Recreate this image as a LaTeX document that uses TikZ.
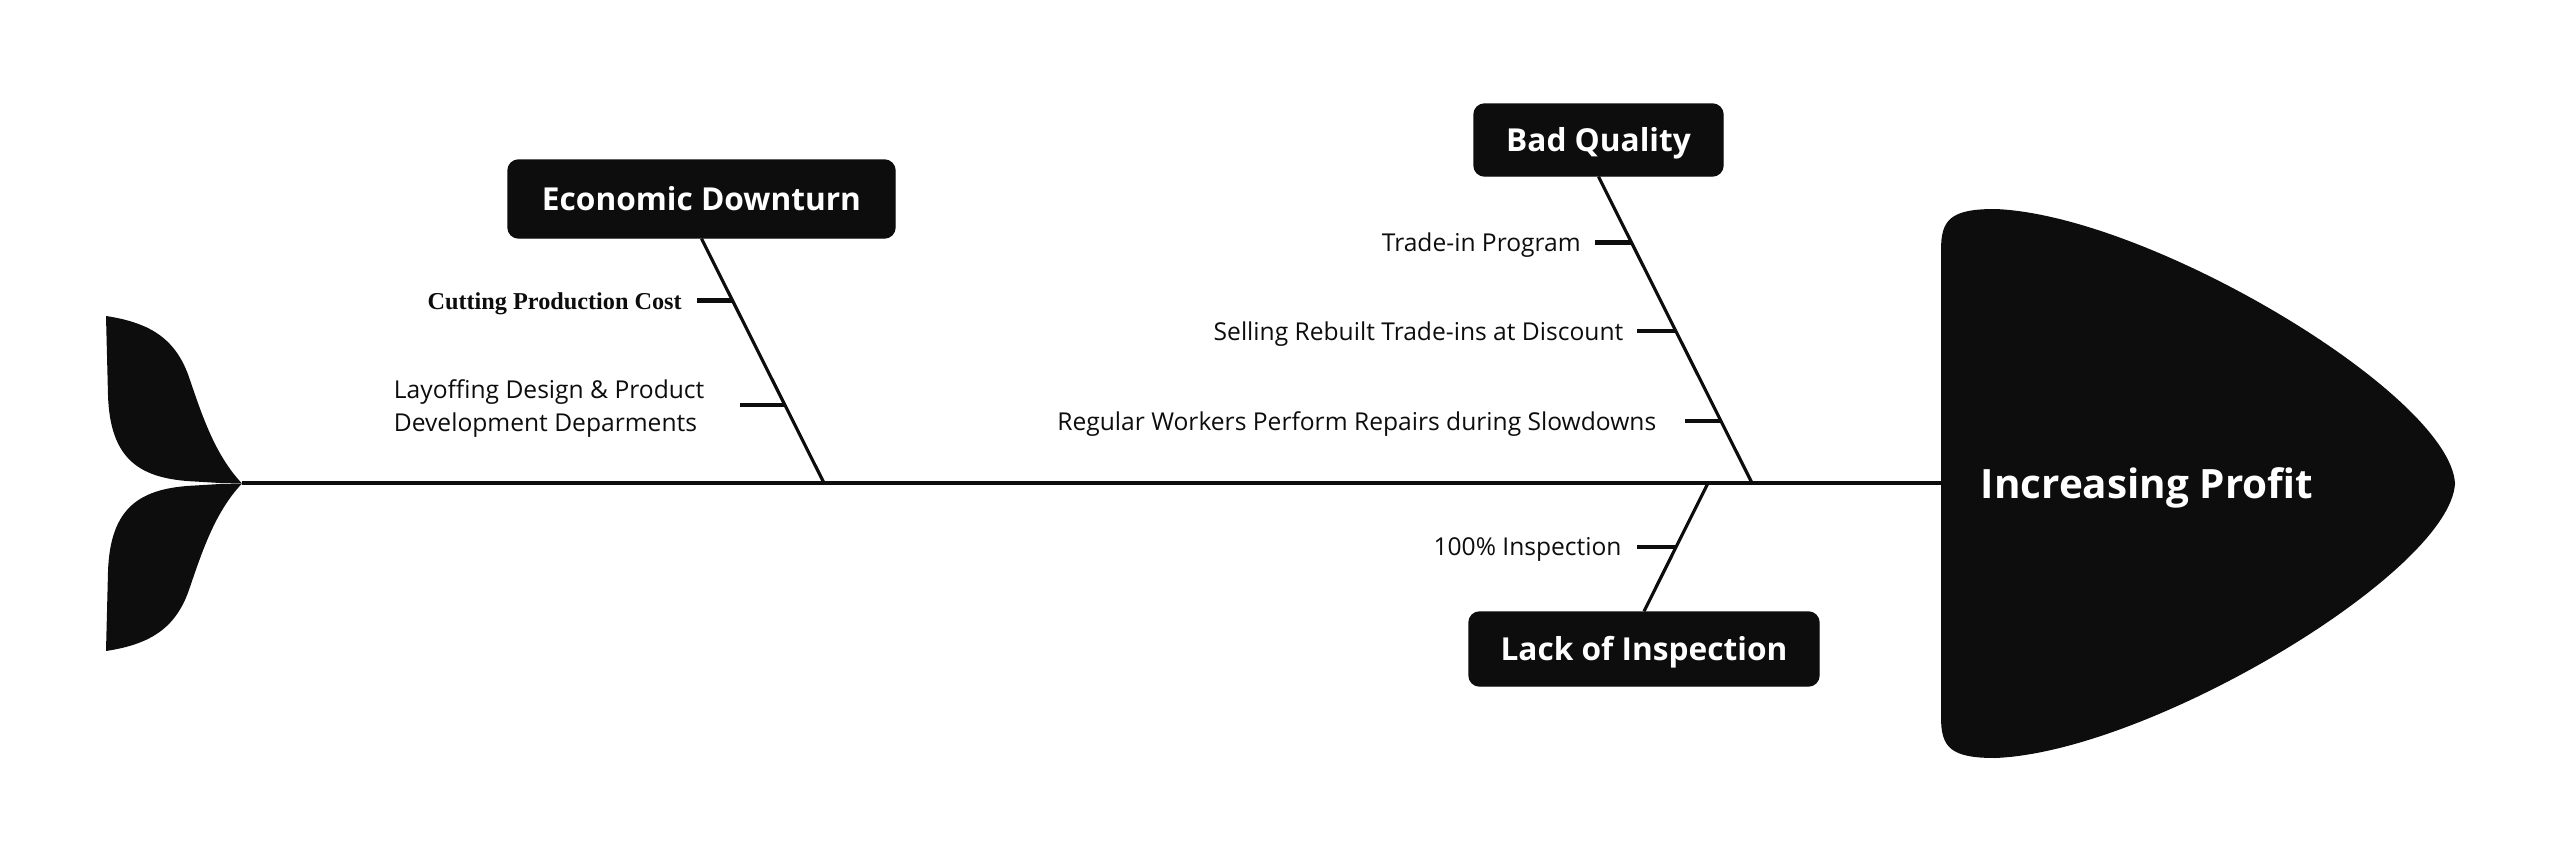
\documentclass[tikz,border=0pt]{standalone}
\usepackage{fontspec}
\setmainfont{Open Sans}
\newfontfamily\serifcause{Liberation Serif}
\definecolor{FishBlack}{HTML}{0D0D0D}
\definecolor{FishWhite}{HTML}{FFFFFF}
\usetikzlibrary{positioning, calc}
\tikzset{
    catbox/.style={
        draw=FishBlack,
        fill=FishBlack,
        rounded corners=3pt,
        minimum height=0.75cm,
        text=FishWhite,
        font=\fontsize{9}{11}\selectfont\bfseries,
        text height=0.92em,
        text depth=0.24em,
        align=center,
        inner sep=4pt
    },
    causetext/.style={
        text=FishBlack,
        font=\fontsize{7}{9.3}\selectfont,
        align=left,
        inner sep=0pt,
        yshift=-0.03cm
    },
    boneline/.style={
        line width=0.9pt,
        FishBlack
    },
    ribline/.style={
        line width=1.2pt,
        FishBlack
    }
}
\begin{document}
\begin{tikzpicture}
        \useasboundingbox (0,0) rectangle (25.6,8.65);

        % Tail
        \fill[FishBlack] (2.42,3.815) .. controls (2.15,4.1) and (2.02,4.5) .. (1.9,4.85)
            .. controls (1.77,5.25) and (1.52,5.42) .. (1.06,5.49)
            -- (1.08,4.7) .. controls (1.10,4.05) and (1.4,3.86) .. (1.95,3.835) -- (2.2,3.82) -- cycle;
        \fill[FishBlack] (2.42,3.815) .. controls (2.15,3.53) and (2.02,3.13) .. (1.9,2.78)
            .. controls (1.77,2.38) and (1.52,2.21) .. (1.06,2.14)
            -- (1.08,2.93) .. controls (1.10,3.58) and (1.4,3.77) .. (1.95,3.795) -- (2.2,3.81) -- cycle;

        % Head
        \fill[FishBlack] (19.41,6.15) .. controls (19.41,6.45) and (19.5,6.56) .. (19.95,6.56)
            .. controls (21.5,6.5) and (24.5,4.7) .. (24.55,3.815)
            .. controls (24.5,2.93) and (21.5,1.13) .. (19.95,1.07)
            .. controls (19.5,1.07) and (19.41,1.18) .. (19.41,1.48) -- cycle;
        \node[text=FishWhite, font=\fontsize{11.5}{14}\selectfont\bfseries] (effect) at (21.47,3.77) {Increasing Profit};

        % Spine
        \coordinate (tailtip) at (2.42,3.82);
        \coordinate (headleft) at (19.41,3.82);
        \draw[boneline] (tailtip) -- (headleft);

        % Categories
        \node[catbox, minimum width=3.87cm, minimum height=0.78cm] (econ) at (7.015,6.66) {Economic Downturn};
        \node[catbox, minimum width=2.49cm, minimum height=0.72cm] (quality) at (15.985,7.25) {Bad Quality};
        \node[catbox, minimum width=3.50cm, minimum height=0.74cm] (inspect) at (16.44,2.16) {Lack of Inspection};

        \coordinate (econjoin) at (8.24,3.82);
        \coordinate (qualityjoin) at (17.52,3.82);
        \coordinate (inspectjoin) at (17.08,3.82);

        \draw[boneline] (econ.south) -- (econjoin);
        \draw[boneline] (quality.south) -- (qualityjoin);
        \draw[boneline] (inspectjoin) -- (inspect.north);

        % Ribs
        \path (econ.south) -- (econjoin) coordinate[pos=0.253] (econrib1) coordinate[pos=0.682] (econrib2);
        \path (quality.south) -- (qualityjoin) coordinate[pos=0.215] (qualityrib1)
            coordinate[pos=0.505] (qualityrib2) coordinate[pos=0.798] (qualityrib3);
        \path (inspectjoin) -- (inspect.north) coordinate[pos=0.496] (inspectrib1);

        \draw[ribline] (econrib1) -- ++(-0.36,0) coordinate (cutend);
        \draw[ribline] (econrib2) -- ++(-0.45,0) coordinate (layend);
        \draw[ribline] (qualityrib1) -- ++(-0.37,0) coordinate (tradeend);
        \draw[ribline] (qualityrib2) -- ++(-0.39,0) coordinate (sellend);
        \draw[ribline] (qualityrib3) -- ++(-0.36,0) coordinate (repairend);
        \draw[ribline] (inspectrib1) -- ++(-0.39,0) coordinate (fullend);

        % Causes
        \node[causetext, left=0.14cm of cutend, font=\serifcause\fontsize{6.9}{8}\selectfont\bfseries] (cutting) {Cutting Production Cost};
        \node[causetext, left=0.35cm of layend] (layoff) {Layoffing Design \& Product\\Development Deparments};
        \node[causetext, left=0.13cm of tradeend] (tradein) {Trade-in Program};
        \node[causetext, left=0.13cm of sellend] (selling) {Selling Rebuilt Trade-ins at Discount};
        \node[causetext, left=0.28cm of repairend] (repairs) {Regular Workers Perform Repairs during Slowdowns};
        \node[causetext, left=0.15cm of fullend] (fullcheck) {100\% Inspection};
    \end{tikzpicture}
\end{document}
